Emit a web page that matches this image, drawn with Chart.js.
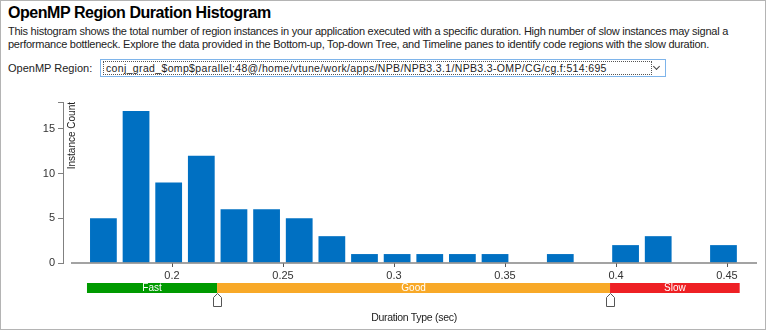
<!DOCTYPE html>
<html>
<head>
<meta charset="utf-8">
<script src="https://cdn.jsdelivr.net/npm/chart.js@4"></script>
<style>
body{margin:0;width:766px;height:330px;overflow:hidden;background:#fff;font-family:"Liberation Sans",Arial,sans-serif;color:#000;position:relative}
#frame{position:absolute;left:0;top:0;width:764px;height:328px;border:1px solid #b4b4b4;pointer-events:none}
h1{position:absolute;left:8px;top:4px;margin:0;font-size:16px;font-weight:bold;letter-spacing:-0.45px;white-space:nowrap}
.desc{position:absolute;left:8px;top:25px;font-size:11px;letter-spacing:-0.25px;line-height:12.5px;color:#222;white-space:nowrap}
.lbl{position:absolute;left:8px;top:62px;font-size:11px;color:#222}
.sel{position:absolute;left:100px;top:59px;width:564px;height:16px;border:1px solid #7eb4ea}
.sel .txt{position:absolute;left:2px;top:1px;width:545px;height:12px;border:1px dotted #555;font-size:10.5px;letter-spacing:0.35px;line-height:12px;padding-left:2px;color:#222;white-space:nowrap;overflow:hidden}
.sel .arr{position:absolute;right:6px;top:4px;width:4px;height:4px;border-right:1.5px solid #444;border-bottom:1.5px solid #444;transform:rotate(45deg)}
#xtitle{position:absolute;left:314px;width:200px;text-align:center;top:311px;font-size:10.5px;letter-spacing:-0.3px;color:#222}
canvas{position:absolute;left:0;top:85px}
</style>
</head>
<body>
<h1>OpenMP Region Duration Histogram</h1>
<div class="desc">This histogram shows the total number of region instances in your application executed with a specific duration. High number of slow instances may signal a<br>performance bottleneck. Explore the data provided in the Bottom-up, Top-down Tree, and Timeline panes to identify code regions with the slow duration.</div>
<div class="lbl">OpenMP Region:</div>
<div class="sel"><div class="txt">conj_grad_$omp$parallel:48@/home/vtune/work/apps/NPB/NPB3.3.1/NPB3.3-OMP/CG/cg.f:514:695</div><div class="arr"></div></div>
<canvas id="histChart" width="766" height="245"></canvas>
<div id="xtitle">Duration Type (sec)</div>
<div id="frame"></div>

<script>
/* DATA */
const binCenters=[0.1691,0.1838,0.1985,0.2132,0.2279,0.2426,0.2573,0.2720,0.2867,0.3014,
                  0.3161,0.3308,0.3455,0.3602,0.3749,0.3896,0.4043,0.4190,0.4337,0.4484];
const counts=[5,17,9,12,6,6,5,3,1,1,1,1,1,0,1,0,2,3,0,2];
const xTicks=[0.2,0.25,0.3,0.35,0.4,0.45];
const yTicks=[0,5,10,15];
const yMax=18;
const bandNames=["Fast","Good","Slow"];
const bandEdges=[0.1617,0.2203,0.3973,0.4557];

Chart.defaults.font.family="'Liberation Sans', Arial, sans-serif";

/* DURATION BAND + AXIS EXTRAS */
const extras={
    id:"extras",
    afterDraw(chart){
        const ctx=chart.ctx, a=chart.chartArea, x=chart.scales.x;
        const bandColors=["#009a00","#f8a928","#ee2024"];
        ctx.save();

        // x axis line (starts a bit right of the y axis)
        ctx.strokeStyle="#858585";
        ctx.lineWidth=1.5;
        ctx.beginPath();
        ctx.moveTo(a.left+8,a.bottom);
        ctx.lineTo(a.right,a.bottom);
        ctx.stroke();

        // band
        const top=a.bottom+20, h=10;
        ctx.font="10px 'Liberation Sans', Arial";
        ctx.textAlign="center";
        ctx.textBaseline="middle";
        bandNames.forEach((n,i)=>{
            const x0=x.getPixelForValue(bandEdges[i]);
            const x1=x.getPixelForValue(bandEdges[i+1]);
            ctx.fillStyle=bandColors[i];
            ctx.fillRect(x0,top,x1-x0,h);
            ctx.fillStyle="#fff";
            ctx.fillText(n,(x0+x1)/2,top+h/2+0.5);
        });

        // threshold markers
        [1,2].forEach(i=>{
            const px=Math.round(x.getPixelForValue(bandEdges[i]))+0.5;
            const y0=top+h+0.5;
            ctx.beginPath();
            ctx.moveTo(px,y0);
            ctx.lineTo(px+4,y0+4);
            ctx.lineTo(px+4,y0+13);
            ctx.lineTo(px-4,y0+13);
            ctx.lineTo(px-4,y0+4);
            ctx.closePath();
            ctx.fillStyle="#fff";
            ctx.fill();
            ctx.strokeStyle="#555";
            ctx.lineWidth=1;
            ctx.stroke();
        });

        // y axis title
        ctx.translate(a.left+9,a.top);
        ctx.rotate(-Math.PI/2);
        ctx.fillStyle="#222";
        ctx.font="10px 'Liberation Sans', Arial";
        ctx.textAlign="right";
        ctx.textBaseline="middle";
        ctx.fillText("Instance Count",0,0);
        ctx.restore();
    }
};

/* HISTOGRAM */
new Chart(
document.getElementById("histChart"),
{
    type:"bar",
    data:{
        datasets:[{
            data:binCenters.map((c,i)=>({x:c,y:counts[i]})),
            backgroundColor:"#0070c2",
            borderWidth:0,
            barPercentage:0.82,
            categoryPercentage:1
        }]
    },
    options:{
        responsive:false,
        animation:false,
        layout:{padding:{top:17,right:9,left:0,bottom:0}},
        plugins:{legend:{display:false},tooltip:{enabled:false}},
        scales:{
            x:{
                type:"linear",
                min:0.1509,
                max:0.4635,
                offset:false,
                afterBuildTicks:s=>{s.ticks=xTicks.map(v=>({value:v}));},
                afterFit:s=>{s.height=67;},
                border:{display:false},
                grid:{drawOnChartArea:false,offset:false,tickLength:4,color:"#555"},
                ticks:{color:"#333",font:{size:11},padding:2,maxRotation:0,autoSkip:false,callback:v=>String(v)}
            },
            y:{
                min:0,
                max:yMax,
                afterBuildTicks:s=>{s.ticks=[...yTicks,yMax].map(v=>({value:v}));},
                afterFit:s=>{s.width=63;},
                border:{display:true,color:"#808080",width:1},
                grid:{drawOnChartArea:false,tickLength:5,color:"#808080"},
                ticks:{color:"#333",font:{size:11},padding:3,callback:v=>yTicks.includes(v)?String(v):""}
            }
        }
    },
    plugins:[extras]
});
</script>
</body>
</html>
